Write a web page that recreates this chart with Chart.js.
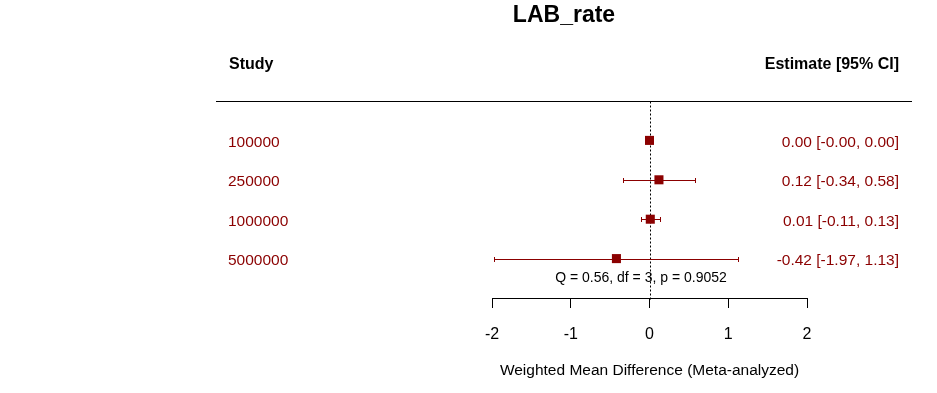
<!DOCTYPE html>
<html>
<head>
<meta charset="utf-8">
<script src="https://cdn.jsdelivr.net/npm/chart.js@4/dist/chart.umd.min.js"></script>
<style>
  html, body { margin: 0; padding: 0; background: #fff; }
  #wrap { width: 937px; height: 393px; }
</style>
</head>
<body>
<div id="wrap"><canvas id="c" width="937" height="393"></canvas></div>
<script>
// ---- data ----
const chartTitle = 'LAB_rate';
const studies = ['100000', '250000', '1000000', '5000000'];
const estimates = [0.00, 0.12, 0.01, -0.42];
const ciLower = [-0.00, -0.34, -0.11, -1.97];
const ciUpper = [0.00, 0.58, 0.13, 1.13];
const ciText = ['0.00 [-0.00, 0.00]', '0.12 [-0.34, 0.58]', '0.01 [-0.11, 0.13]', '-0.42 [-1.97, 1.13]'];
const xTicks = [-2, -1, 0, 1, 2];
const heterogeneityText = 'Q = 0.56, df = 3, p = 0.9052';
const xAxisTitle = 'Weighted Mean Difference (Meta-analyzed)';
const studyHeader = 'Study';
const estimateHeader = 'Estimate [95% CI]';

const FONT = '"Liberation Sans", Arial, Helvetica, sans-serif';
const DARKRED = '#8B0000';
const rows = studies.map((s, i) => i + 1);

const forestPlugin = {
  id: 'forest',
  beforeDatasetsDraw(chart) {
    const { ctx, chartArea } = chart;
    const xs = chart.scales.x, ys = chart.scales.y;
    ctx.save();
    // header rule
    const yh = Math.round(ys.getPixelForValue(0)) + 0.5;
    ctx.strokeStyle = '#000';
    ctx.lineWidth = 1;
    ctx.beginPath();
    ctx.moveTo(216, yh);
    ctx.lineTo(912, yh);
    ctx.stroke();
    // zero reference line
    const x0 = Math.round(xs.getPixelForValue(0)) + 0.5;
    ctx.setLineDash([2, 2]);
    ctx.beginPath();
    ctx.moveTo(x0, yh);
    ctx.lineTo(x0, chartArea.bottom + 2);
    ctx.stroke();
    ctx.setLineDash([]);
    // confidence intervals
    ctx.strokeStyle = DARKRED;
    rows.forEach((r, i) => {
      const y = Math.round(ys.getPixelForValue(r)) + 0.5;
      const xl = Math.round(xs.getPixelForValue(ciLower[i])) + 0.5;
      const xu = Math.round(xs.getPixelForValue(ciUpper[i])) + 0.5;
      if (xu - xl < 1) return;
      ctx.beginPath();
      ctx.moveTo(xl, y); ctx.lineTo(xu, y);
      ctx.moveTo(xl, y - 2.5); ctx.lineTo(xl, y + 2.5);
      ctx.moveTo(xu, y - 2.5); ctx.lineTo(xu, y + 2.5);
      ctx.stroke();
    });
    ctx.restore();
  },
  afterDraw(chart) {
    const { ctx, chartArea } = chart;
    const xs = chart.scales.x, ys = chart.scales.y;
    ctx.save();
    ctx.textBaseline = 'alphabetic';
    // title
    ctx.fillStyle = '#000';
    ctx.font = 'bold 23px ' + FONT;
    ctx.textAlign = 'center';
    ctx.fillText(chartTitle, 564, chartArea.top - 79);
    // headers
    ctx.font = 'bold 16px ' + FONT;
    ctx.textAlign = 'left';
    ctx.fillText(studyHeader, 229, chartArea.top - 32);
    ctx.textAlign = 'right';
    ctx.fillText(estimateHeader, 899, chartArea.top - 32);
    // rows
    ctx.font = '15.5px ' + FONT;
    ctx.fillStyle = DARKRED;
    rows.forEach((r, i) => {
      const y = ys.getPixelForValue(r) + 6.5;
      ctx.textAlign = 'left';
      ctx.fillText(studies[i], 228, y);
      ctx.textAlign = 'right';
      ctx.fillText(ciText[i], 899, y);
    });
    // heterogeneity
    ctx.fillStyle = '#000';
    ctx.font = '14px ' + FONT;
    ctx.textAlign = 'center';
    ctx.fillText(heterogeneityText, 641, ys.getPixelForValue(4.5) + 4);
    ctx.restore();
  }
};

new Chart(document.getElementById('c'), {
  type: 'scatter',
  data: {
    datasets: [{
      data: rows.map((r, i) => ({ x: estimates[i], y: r })),
      pointStyle: 'rect',
      pointRadius: 6.4,
      pointHoverRadius: 6.4,
      backgroundColor: DARKRED,
      borderColor: DARKRED,
      borderWidth: 0
    }]
  },
  options: {
    responsive: false,
    animation: false,
    devicePixelRatio: 1,
    events: [],
    layout: { padding: { left: 492, right: 130, top: 101, bottom: 0 } },
    plugins: { legend: { display: false }, tooltip: { enabled: false }, title: { display: false } },
    scales: {
      x: {
        type: 'linear',
        position: 'bottom',
        min: xTicks[0],
        max: xTicks[xTicks.length - 1],
        afterBuildTicks: (s) => { s.ticks = xTicks.map(v => ({ value: v })); },
        afterFit: (s) => { s.height = 95; },
        ticks: {
          color: '#000',
          font: { family: FONT, size: 16 },
          padding: 17,
          maxRotation: 0,
          callback: (v) => String(v)
        },
        grid: { drawOnChartArea: false, drawTicks: true, tickLength: 10, color: '#000', lineWidth: 1 },
        border: { display: true, color: '#000', width: 1 },
        title: {
          display: true,
          text: xAxisTitle,
          color: '#000',
          font: { family: FONT, size: 15.5 },
          padding: { top: 0, bottom: 13 }
        }
      },
      y: {
        type: 'linear',
        min: 0,
        max: 5,
        reverse: true,
        display: false
      }
    }
  },
  plugins: [forestPlugin]
});
</script>
</body>
</html>
